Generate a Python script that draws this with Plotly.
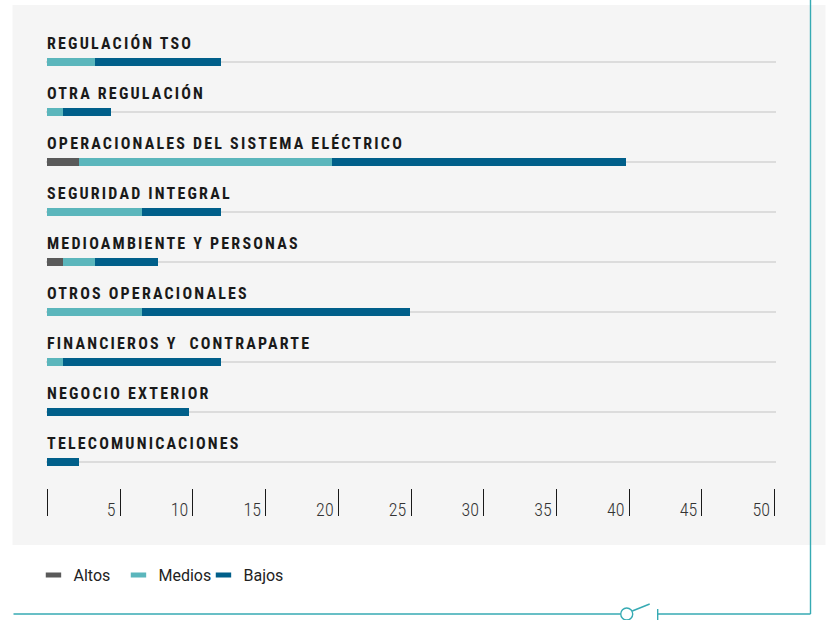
import plotly.graph_objects as go

# ---- data ----
CATEGORIES = [
    "REGULACIÓN TSO",
    "OTRA REGULACIÓN",
    "OPERACIONALES DEL SISTEMA ELÉCTRICO",
    "SEGURIDAD INTEGRAL",
    "MEDIOAMBIENTE Y PERSONAS",
    "OTROS OPERACIONALES",
    "FINANCIEROS Y\u00a0 CONTRAPARTE",
    "NEGOCIO EXTERIOR",
    "TELECOMUNICACIONES",
]
ALTOS = [0, 0, 2.2, 0, 1.1, 0, 0, 0, 0]
MEDIOS = [3.3, 1.1, 17.4, 6.5, 2.2, 6.5, 1.1, 0, 0]
BAJOS = [8.65, 3.3, 20.2, 5.4, 4.3, 18.4, 10.85, 9.75, 2.2]
SERIES = ["Altos", "Medios", "Bajos"]
TICK_VALUES = [0, 5, 10, 15, 20, 25, 30, 35, 40, 45, 50]
TICK_LABELS = ["", "5", "10", "15", "20", "25", "30", "35", "40", "45", "50"]

COLORS = {"Altos": "#5a5a5a", "Medios": "#5bb6bc", "Bajos": "#005f8a"}
TEAL = "#36aab3"

W, H = 826, 620
XMIN, XMAX = -0.1, 50.1          # a hair wider than 0-50 so the end ticks are drawn
UNIT = 14.56                     # px per unit, as in the reference
ML = round(47 - (0 - XMIN) * UNIT, 2)
PW = (XMAX - XMIN) * UNIT
MR = W - ML - PW
MT, MB = 0, 104
PH = H - MT - MB


def px(xp):
    return (xp - ML) / PW


def py(yp):
    return (H - MB - yp) / PH


fig = go.Figure()
for name, vals in zip(SERIES, [ALTOS, MEDIOS, BAJOS]):
    fig.add_trace(go.Bar(
        y=CATEGORIES, x=vals, orientation="h", width=0.16, name=name,
        marker=dict(color=COLORS[name], line=dict(width=0)),
        showlegend=False, hoverinfo="x+y+name",
    ))
    # legend entry (thin rectangle icon)
    fig.add_trace(go.Scatter(
        x=[None], y=[None], mode="markers", name=name,
        marker=dict(symbol="line-ew", size=11, color=COLORS[name],
                    line=dict(width=6, color=COLORS[name])),
        showlegend=True,
    ))

annotations = []
for cat in CATEGORIES:
    annotations.append(dict(
        x=0, y=cat, xref="x", yref="y", xanchor="left", yanchor="middle",
        yshift=19, xshift=-2, showarrow=False,
        text='<span style="font-stretch:condensed;letter-spacing:2.2px">%s</span>' % cat,
        font=dict(family="Roboto", size=16, color="#1a1a1a", weight="bold"),
    ))

shapes = [
    # grey panel
    dict(type="rect", xref="paper", yref="paper", x0=px(12), x1=px(W), y0=py(545), y1=py(5),
         fillcolor="#f5f5f5", line=dict(width=0), layer="below"),
    # teal frame
    dict(type="line", xref="paper", yref="paper", x0=px(811), x1=px(811), y0=py(0), y1=py(614),
         line=dict(color=TEAL, width=1.4)),
    dict(type="line", xref="paper", yref="paper", x0=px(13), x1=px(621), y0=py(614), y1=py(614),
         line=dict(color=TEAL, width=1.4)),
    dict(type="circle", xref="paper", yref="paper", x0=px(621), x1=px(633), y0=py(620), y1=py(608),
         line=dict(color=TEAL, width=1.4), fillcolor="white"),
    dict(type="line", xref="paper", yref="paper", x0=px(632.5), x1=px(650), y0=py(611), y1=py(604),
         line=dict(color=TEAL, width=1.4)),
    dict(type="line", xref="paper", yref="paper", x0=px(658), x1=px(658), y0=py(609), y1=py(620),
         line=dict(color=TEAL, width=1.4)),
    dict(type="line", xref="paper", yref="paper", x0=px(658), x1=px(811), y0=py(614), y1=py(614),
         line=dict(color=TEAL, width=1.4)),
]

fig.update_layout(
    width=W, height=H,
    margin=dict(l=ML, r=MR, t=MT, b=MB, pad=0),
    paper_bgcolor="white", plot_bgcolor="rgba(0,0,0,0)",
    barmode="stack", bargap=0,
    xaxis=dict(
        range=[XMIN, XMAX], tickvals=TICK_VALUES,
        ticktext=['<span style="font-stretch:condensed">%s</span>' % t for t in TICK_LABELS],
        ticks="inside", ticklen=27, tickwidth=1.3, tickcolor="#1a1a1a",
        ticklabelposition="inside left", ticklabelstandoff=-10, ticklabelshift=-4,
        tickfont=dict(family="Roboto", size=18, color="#333333", weight=300),
        showgrid=False, zeroline=False, showline=False, fixedrange=True,
    ),
    yaxis=dict(
        type="category", categoryarray=CATEGORIES, range=[9.08, -1.24],
        showgrid=True, gridcolor="#dcdcdc", gridwidth=2,
        showticklabels=False, ticks="", zeroline=False, showline=False, fixedrange=True,
    ),
    legend=dict(
        orientation="h", x=px(33), y=py(575), xanchor="left", yanchor="middle",
        font=dict(family="Roboto", size=16, color="#222222"),
        bgcolor="rgba(0,0,0,0)", itemclick=False, itemdoubleclick=False,
        traceorder="normal", entrywidth=40, entrywidthmode="pixels",
    ),
    annotations=annotations,
    shapes=shapes,
)

fig.write_html("out.html", config={"displayModeBar": False},
               post_script="document.body.style.margin='0';")
